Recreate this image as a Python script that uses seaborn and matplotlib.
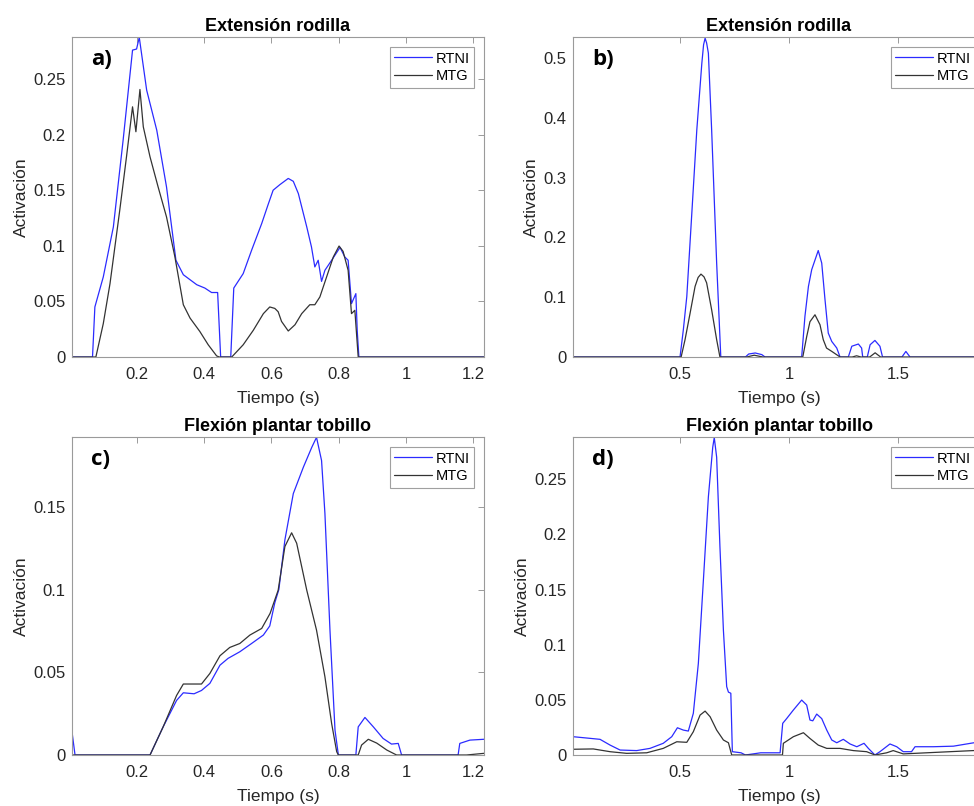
import matplotlib
matplotlib.use("Agg")
import matplotlib.pyplot as plt
import matplotlib.ticker as mticker
import seaborn as sns

# ---- data (time in s, activation) ----
# a) Extensión rodilla
a_rtni_t = [0.0, 0.068, 0.075, 0.100, 0.130, 0.159, 0.187, 0.199, 0.207, 0.229, 0.259, 0.288,
            0.316, 0.338, 0.378, 0.402, 0.422, 0.440, 0.449, 0.479, 0.488, 0.516, 0.541, 0.571,
            0.590, 0.605, 0.625, 0.650, 0.665, 0.680, 0.705, 0.719, 0.729, 0.739, 0.749, 0.759,
            0.779, 0.804, 0.818, 0.828, 0.838, 0.851, 0.855, 0.860, 1.24]
a_rtni_y = [0, 0, 0.045, 0.072, 0.117, 0.195, 0.276, 0.277, 0.2875, 0.240, 0.204, 0.153,
            0.087, 0.074, 0.065, 0.062, 0.058, 0.058, 0, 0, 0.062, 0.075, 0.096, 0.120,
            0.137, 0.150, 0.155, 0.1606, 0.158, 0.147, 0.117, 0.099, 0.081, 0.087, 0.068, 0.078,
            0.087, 0.0986, 0.090, 0.087, 0.048, 0.057, 0.024, 0, 0]
a_mtg_t = [0.0, 0.078, 0.100, 0.120, 0.149, 0.169, 0.187, 0.197, 0.209, 0.219, 0.239, 0.263,
           0.288, 0.313, 0.338, 0.358, 0.387, 0.412, 0.437, 0.445, 0.482, 0.516, 0.546, 0.576,
           0.595, 0.610, 0.620, 0.630, 0.650, 0.670, 0.690, 0.714, 0.729, 0.744, 0.764, 0.784,
           0.801, 0.813, 0.828, 0.838, 0.848, 0.858, 1.24]
a_mtg_y = [0, 0, 0.030, 0.066, 0.132, 0.180, 0.225, 0.2026, 0.2406, 0.207, 0.180, 0.153,
           0.126, 0.090, 0.047, 0.035, 0.023, 0.011, 0.001, 0, 0, 0.011, 0.024, 0.039,
           0.045, 0.0437, 0.0407, 0.032, 0.0234, 0.029, 0.039, 0.047, 0.047, 0.054, 0.072, 0.090,
           0.0998, 0.095, 0.078, 0.039, 0.042, 0, 0]

# b) Extensión rodilla
b_rtni_t = [0.0, 0.500, 0.515, 0.531, 0.554, 0.577, 0.600, 0.608, 0.615, 0.622, 0.630, 0.645,
            0.668, 0.687, 0.800, 0.815, 0.845, 0.875, 0.890, 1.058, 1.073, 1.089, 1.104, 1.119,
            1.134, 1.150, 1.165, 1.180, 1.196, 1.219, 1.234, 1.272, 1.288, 1.318, 1.333, 1.338,
            1.359, 1.372, 1.394, 1.417, 1.429, 1.518, 1.536, 1.555, 1.9]
b_rtni_y = [0, 0, 0.045, 0.101, 0.240, 0.380, 0.491, 0.522, 0.533, 0.525, 0.508, 0.380,
            0.157, 0, 0, 0.005, 0.0067, 0.004, 0, 0, 0.068, 0.118, 0.146, 0.162,
            0.178, 0.157, 0.096, 0.040, 0.026, 0.015, 0, 0, 0.018, 0.0217, 0.015, 0,
            0, 0.0205, 0.0277, 0.018, 0, 0, 0.0093, 0, 0]
b_mtg_t = [0.0, 0.505, 0.523, 0.546, 0.569, 0.583, 0.596, 0.610, 0.622, 0.645, 0.668, 0.683,
           0.806, 0.840, 0.880, 1.063, 1.081, 1.096, 1.119, 1.142, 1.157, 1.172, 1.196, 1.234,
           1.290, 1.310, 1.330, 1.370, 1.395, 1.420, 1.9]
b_mtg_y = [0, 0, 0.029, 0.073, 0.118, 0.133, 0.1386, 0.134, 0.124, 0.079, 0.029, 0,
           0, 0.003, 0, 0, 0.034, 0.059, 0.0706, 0.054, 0.029, 0.015, 0.0094, 0,
           0, 0.002, 0, 0, 0.007, 0, 0]

# c) Flexión plantar tobillo
c_rtni_t = [0.007, 0.016, 0.239, 0.278, 0.318, 0.338, 0.370, 0.392, 0.417, 0.447, 0.471, 0.506,
            0.541, 0.576, 0.595, 0.610, 0.622, 0.640, 0.665, 0.695, 0.720, 0.734, 0.749, 0.759,
            0.774, 0.789, 0.799, 0.851, 0.858, 0.878, 0.903, 0.932, 0.957, 0.977, 0.987, 1.155,
            1.160, 1.190, 1.232]
c_rtni_y = [0.014, 0, 0, 0.017, 0.033, 0.0376, 0.037, 0.039, 0.0433, 0.0543, 0.0584, 0.0624,
            0.0674, 0.0725, 0.078, 0.092, 0.100, 0.130, 0.158, 0.174, 0.186, 0.192, 0.178, 0.146,
            0.0755, 0.015, 0, 0, 0.017, 0.0227, 0.017, 0.010, 0.0066, 0.007, 0, 0,
            0.007, 0.009, 0.0095]
c_mtg_t = [0.007, 0.239, 0.278, 0.318, 0.338, 0.392, 0.417, 0.447, 0.476, 0.506, 0.536, 0.571,
           0.596, 0.620, 0.640, 0.660, 0.675, 0.705, 0.734, 0.759, 0.779, 0.794, 0.799, 0.858,
           0.868, 0.888, 0.913, 0.943, 0.972, 1.180, 1.232]
c_mtg_y = [0, 0, 0.017, 0.036, 0.0429, 0.0429, 0.0493, 0.060, 0.065, 0.0674, 0.0725, 0.0765,
           0.0856, 0.0996, 0.126, 0.1343, 0.128, 0.0996, 0.0755, 0.0473, 0.019, 0.002, 0, 0,
           0.006, 0.0095, 0.0072, 0.003, 0, 0, 0.001]

# d) Flexión plantar tobillo
d_rtni_t = [0.009, 0.087, 0.133, 0.179, 0.225, 0.301, 0.362, 0.423, 0.462, 0.488, 0.515, 0.538,
            0.561, 0.584, 0.607, 0.630, 0.650, 0.657, 0.668, 0.683, 0.699, 0.714, 0.722, 0.733,
            0.740, 0.780, 0.800, 0.870, 0.959, 0.971, 0.989, 1.020, 1.058, 1.081, 1.096, 1.109,
            1.127, 1.150, 1.173, 1.196, 1.219, 1.249, 1.280, 1.311, 1.344, 1.364, 1.394, 1.417,
            1.463, 1.494, 1.524, 1.562, 1.578, 1.662, 1.754, 1.845, 1.9]
d_rtni_y = [0.0166, 0.0151, 0.0142, 0.009, 0.0045, 0.004, 0.006, 0.0106, 0.0166, 0.0247, 0.0226, 0.0217,
            0.0378, 0.083, 0.158, 0.234, 0.279, 0.2878, 0.270, 0.189, 0.113, 0.062, 0.057, 0.056,
            0.003, 0.002, 0, 0.002, 0.002, 0.0287, 0.033, 0.0408, 0.0498, 0.0453, 0.0317, 0.031,
            0.0371, 0.033, 0.0226, 0.0136, 0.0111, 0.0142, 0.010, 0.0075, 0.0106, 0.006, 0, 0.003,
            0.010, 0.0075, 0.003, 0.003, 0.0075, 0.0075, 0.008, 0.011, 0.012]
d_mtg_t = [0.009, 0.102, 0.179, 0.255, 0.347, 0.423, 0.485, 0.531, 0.561, 0.592, 0.615, 0.638,
           0.668, 0.699, 0.722, 0.737, 0.970, 0.974, 1.020, 1.066, 1.096, 1.134, 1.173, 1.234,
           1.295, 1.356, 1.394, 1.448, 1.478, 1.524, 1.631, 1.845, 1.9]
d_mtg_y = [0.0052, 0.0055, 0.003, 0.0015, 0.002, 0.006, 0.012, 0.0115, 0.0211, 0.0362, 0.0398, 0.0347,
           0.0226, 0.0136, 0.0111, 0, 0, 0.0106, 0.0166, 0.0202, 0.015, 0.009, 0.006, 0.006,
           0.004, 0.003, 0, 0.002, 0.004, 0.001, 0.002, 0.004, 0.004]

TITLES = ["Extensión rodilla", "Extensión rodilla", "Flexión plantar tobillo", "Flexión plantar tobillo"]
LETTERS = ["a)", "b)", "c)", "d)"]
SERIES_LABELS = ["RTNI", "MTG"]

BLUE = "#2b2bff"
DARK = "#333333"
SPINE = "#9a9a9a"
TEXT = "#262626"


def draw_panel(ax, rtni, mtg, title, letter, xlim, ylim, xticks, yticks):
    for (t, y), color, label in zip([rtni, mtg], [BLUE, DARK], SERIES_LABELS):
        sns.lineplot(x=t, y=y, ax=ax, color=color, linewidth=0.9, label=label,
                     estimator=None, sort=False)
    ax.set_xlim(*xlim)
    ax.set_ylim(*ylim)
    ax.set_xticks(xticks)
    ax.set_yticks(yticks)
    fmt = mticker.FormatStrFormatter("%g")
    ax.xaxis.set_major_formatter(fmt)
    ax.yaxis.set_major_formatter(fmt)
    ax.tick_params(direction="in", top=True, right=True, length=4, width=0.7,
                   color=SPINE, labelcolor=TEXT, labelsize=12)
    ax.tick_params(axis="x", pad=7.5)
    ax.tick_params(axis="y", pad=4.5)
    for s in ax.spines.values():
        s.set_visible(True)
        s.set_color(SPINE)
        s.set_linewidth(0.8)
    ax.set_xlabel("Tiempo (s)", fontsize=12.5, color=TEXT, labelpad=6)
    ax.set_ylabel("Activación", fontsize=12.5, color=TEXT, labelpad=3)
    ax.set_title(title, fontsize=13, fontweight="bold", color="black", pad=4)
    ax.text(0.046, 0.962, letter, transform=ax.transAxes, ha="left", va="top",
            fontsize=16, fontweight="bold", family=["Open Sans", "DejaVu Sans"], color="black")
    leg = ax.legend(loc="upper right", fontsize=10.5, frameon=True, fancybox=False,
                    framealpha=1, borderpad=0.3, handlelength=2.6, handletextpad=0.2,
                    labelspacing=0.25, borderaxespad=0.7)
    leg.get_frame().set_edgecolor("#a0a0a0")
    leg.get_frame().set_linewidth(0.8)
    for txt in leg.get_texts():
        txt.set_color("black")
    ax.grid(False)


sns.set_theme(style="white")
plt.rcParams["font.family"] = ["Liberation Sans", "DejaVu Sans"]

fig = plt.figure(figsize=(9.74, 8.06), dpi=100)
W, H = 974.0, 806.0
rects = [
    (72 / W, 1 - 357 / H, 412 / W, 320 / H),
    (573 / W, 1 - 357 / H, 412 / W, 320 / H),
    (72 / W, 1 - 755 / H, 412 / W, 318 / H),
    (573 / W, 1 - 755 / H, 412 / W, 318 / H),
]
axes = [fig.add_axes(r) for r in rects]

draw_panel(axes[0], (a_rtni_t, a_rtni_y), (a_mtg_t, a_mtg_y), TITLES[0], LETTERS[0],
           (0.007, 1.232), (0, 0.2878), [0.2, 0.4, 0.6, 0.8, 1.0, 1.2],
           [0, 0.05, 0.1, 0.15, 0.2, 0.25])
draw_panel(axes[1], (b_rtni_t, b_rtni_y), (b_mtg_t, b_mtg_y), TITLES[1], LETTERS[1],
           (0.009, 1.899), (0, 0.535), [0.5, 1.0, 1.5],
           [0, 0.1, 0.2, 0.3, 0.4, 0.5])
draw_panel(axes[2], (c_rtni_t, c_rtni_y), (c_mtg_t, c_mtg_y), TITLES[2], LETTERS[2],
           (0.007, 1.232), (0, 0.1922), [0.2, 0.4, 0.6, 0.8, 1.0, 1.2],
           [0, 0.05, 0.1, 0.15])
draw_panel(axes[3], (d_rtni_t, d_rtni_y), (d_mtg_t, d_mtg_y), TITLES[3], LETTERS[3],
           (0.009, 1.899), (0, 0.2883), [0.5, 1.0, 1.5],
           [0, 0.05, 0.1, 0.15, 0.2, 0.25])

fig.savefig("out.png", dpi=100, facecolor="white")
